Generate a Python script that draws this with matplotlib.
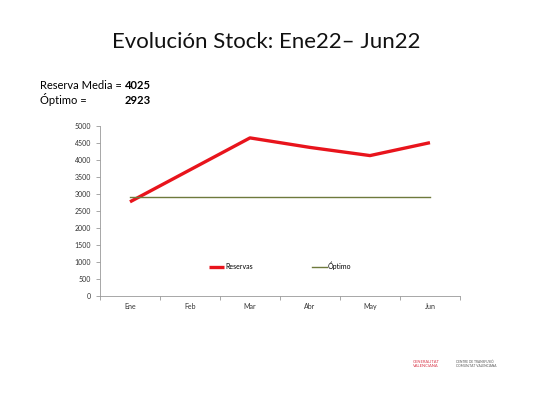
import matplotlib as mpl
mpl.use('Agg')
import matplotlib.pyplot as plt

meses = ['Ene', 'Feb', 'Mar', 'Abr', 'May', 'Jun']
reservas = [2770, 3710, 4650, 4370, 4130, 4510]
optimo = [2923] * 6
yticks = list(range(0, 5001, 500))

plt.rcParams['font.family'] = ['Lato', 'DejaVu Sans']

fig = plt.figure(figsize=(5.33, 4.0), dpi=100)
ax = fig.add_axes([0.1876, 0.26, 0.6754, 0.425])

x = list(range(len(meses)))
ax.plot(x, reservas, color='#e8141c', lw=2.4, label='Reservas', solid_capstyle='butt')
ax.plot(x, optimo, color='#6e7a3c', lw=1.0, label='Óptimo')

ax.set_xlim(-0.5, len(meses) - 0.5)
ax.set_ylim(0, 5000)
ax.set_yticks(yticks)
ax.set_xticks(x)
ax.set_xticklabels(meses)
ax.set_xticks([i + 0.5 for i in range(-1, len(meses))], minor=True)
ax.tick_params(axis='x', which='major', length=0, labelsize=5, colors='#333333', pad=5)
ax.tick_params(axis='x', which='minor', length=3, color='#999999', width=0.6)
ax.tick_params(axis='y', length=3, labelsize=5, colors='#999999', labelcolor='#333333', width=0.6)
for s in ['top', 'right']:
    ax.spines[s].set_visible(False)
for s in ['left', 'bottom']:
    ax.spines[s].set_color('#999999')
    ax.spines[s].set_linewidth(0.6)

ax.legend(loc='center', bbox_to_anchor=(0.5, 0.177), ncol=2, frameon=False,
          fontsize=5, handlelength=2.2, columnspacing=8.5, handletextpad=0.1)

fig.text(0.5, 0.895, 'Evolución Stock: Ene22– Jun22', ha='center', va='center',
         fontsize=16, color='#111111')
fig.text(0.075, 0.787, 'Reserva Media =', ha='left', va='center', fontsize=8)
fig.text(0.2835, 0.787, '4025', ha='right', va='center', fontsize=8, weight='bold')
fig.text(0.075, 0.75, 'Óptimo =', ha='left', va='center', fontsize=8)
fig.text(0.2835, 0.75, '2923', ha='right', va='center', fontsize=8, weight='bold')

fig.text(0.775, 0.09, 'GENERALITAT\nVALENCIANA', ha='left', va='center', fontsize=3,
         color='#d9384a', linespacing=1.1)
fig.text(0.855, 0.09, 'CENTRE DE TRANSFUSIÓ\nCOMUNITAT VALENCIANA', ha='left', va='center',
         fontsize=2.3, color='#555555', linespacing=1.1)

fig.savefig('out.png', dpi=100)
